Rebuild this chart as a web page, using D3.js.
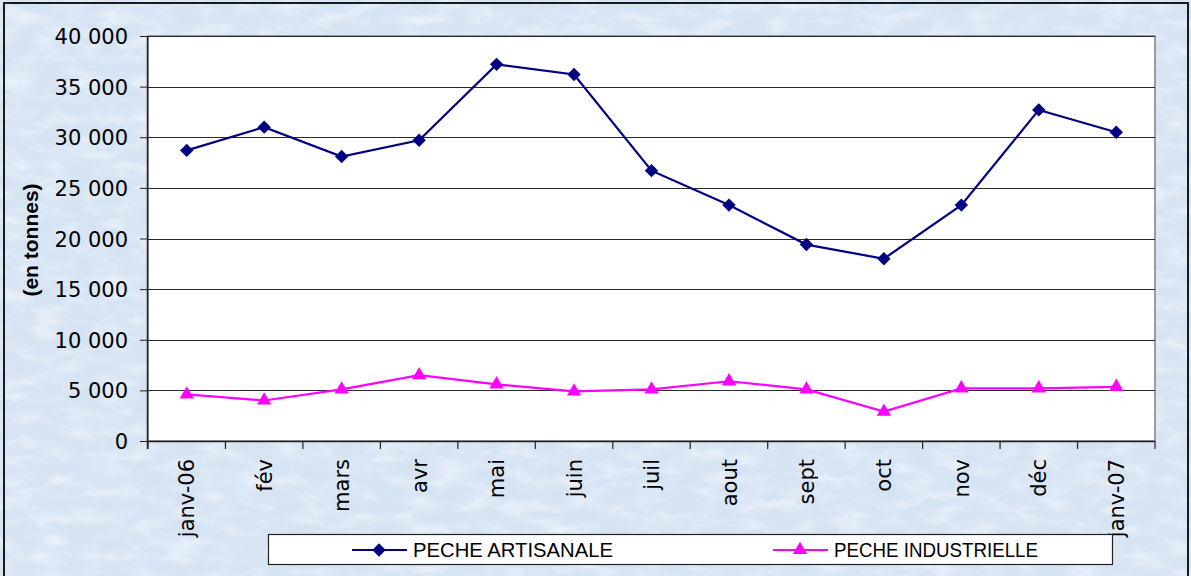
<!DOCTYPE html>
<html><head><meta charset="utf-8">
<script src="https://cdn.jsdelivr.net/npm/d3@7"></script>
<style>html,body{margin:0;padding:0;background:#fff;}svg{display:block;}</style>
</head><body>
<svg id="chart" width="1191" height="576"></svg>
<script>
const categories = ["janv-06","fév","mars","avr","mai","juin","juil","aout","sept","oct","nov","déc","janv-07"];
const artisanale = [28700,31000,28100,29700,37200,36200,26700,23300,19400,18000,23300,32700,30500];
const industrielle = [4600,4000,5100,6500,5600,4900,5100,5900,5100,2900,5200,5200,5350];
const yTicks = [0,5000,10000,15000,20000,25000,30000,35000,40000];
const seriesNames = ["PECHE ARTISANALE","PECHE INDUSTRIELLE"];
const yTitle = "(en tonnes)";

const svg = d3.select("#chart");
const W = 1191, H = 576;
const m = {left:148, right:1155, top:36, bottom:441};

// background texture
const defs = svg.append("defs");
const f1 = defs.append("filter").attr("id","tex1").attr("x",0).attr("y",0).attr("width","100%").attr("height","100%");
f1.append("feTurbulence").attr("type","fractalNoise").attr("baseFrequency","0.03 0.08").attr("numOctaves",4).attr("seed",3);
f1.append("feColorMatrix").attr("type","matrix")
  .attr("values","0 0 0 0 0.93  0 0 0 0 0.96  0 0 0 0 1  1.3 0 0 0 -0.55");
const f2 = defs.append("filter").attr("id","tex2").attr("x",0).attr("y",0).attr("width","100%").attr("height","100%");
f2.append("feTurbulence").attr("type","fractalNoise").attr("baseFrequency","0.06 0.15").attr("numOctaves",3).attr("seed",9);
f2.append("feColorMatrix").attr("type","matrix")
  .attr("values","0 0 0 0 0.72  0 0 0 0 0.80  0 0 0 0 0.92  0 1.2 0 0 -0.55");

svg.append("rect").attr("x",0).attr("y",0).attr("width",W).attr("height",H).attr("fill","#d6e3f3");
svg.append("rect").attr("x",0).attr("y",0).attr("width",W).attr("height",H).attr("filter","url(#tex2)");
svg.append("rect").attr("x",0).attr("y",0).attr("width",W).attr("height",H).attr("filter","url(#tex1)");
svg.append("rect").attr("x",4).attr("y",3).attr("width",1184).attr("height",600)
  .attr("fill","none").attr("stroke","#1a1a1a").attr("stroke-width",2);

const x = d3.scaleBand().domain(categories).range([m.left, m.right]);
const y = d3.scaleLinear().domain([0,40000]).range([m.bottom, m.top]);
const fr = d3.formatLocale({decimal:",",thousands:" ",grouping:[3],currency:["",""]});
const fmt = fr.format(",");

// plot area
svg.append("rect").attr("x",m.left).attr("y",m.top).attr("width",m.right-m.left).attr("height",m.bottom-m.top)
  .attr("fill","#fff").attr("stroke","#808080").attr("stroke-width",1.5);

// gridlines
svg.append("g").selectAll("line").data(yTicks.filter(d=>d>0)).join("line")
  .attr("x1",m.left).attr("x2",m.right).attr("y1",d=>Math.round(y(d))+0.5).attr("y2",d=>Math.round(y(d))+0.5)
  .attr("stroke","#2a2a2a").attr("stroke-width",1);

// y axis
const yAxis = svg.append("g").attr("transform",`translate(${m.left},0)`)
  .call(d3.axisLeft(y).tickValues(yTicks).tickFormat(fmt).tickSize(8).tickPadding(12));
yAxis.select(".domain").attr("stroke","#222").attr("stroke-width",1.5).attr("d",`M-0.5,${m.top}V${m.bottom+8}`);
yAxis.selectAll(".tick line").attr("stroke","#222");
yAxis.selectAll("text").attr("font-family","'DejaVu Sans', sans-serif").attr("font-size","21px").attr("fill","#000").attr("dy","0.36em");

// x axis
const xAxis = svg.append("g").attr("transform",`translate(0,${m.bottom})`)
  .call(d3.axisBottom(x).tickSize(0).tickPadding(0));
xAxis.select(".domain").attr("stroke","#222").attr("stroke-width",1.5).attr("d",`M${m.left},0.5H${m.right}`);
const bounds = categories.map(c=>x(c)).concat([m.right]);
svg.append("g").selectAll("line").data(bounds).join("line")
  .attr("x1",d=>d).attr("x2",d=>d).attr("y1",m.bottom).attr("y2",m.bottom+8)
  .attr("stroke","#222").attr("stroke-width",1.2);
xAxis.selectAll(".tick text")
  .attr("font-family","'DejaVu Sans', sans-serif").attr("font-size","21px").attr("fill","#000")
  .attr("text-anchor","end")
  .attr("transform","translate(0,18) rotate(-90)")
  .attr("x",0).attr("y",0).attr("dy","0.36em");

// y title
svg.append("text").attr("transform","translate(31,240) rotate(-90)")
  .attr("text-anchor","middle").attr("dy","0.35em")
  .attr("font-family","'Liberation Sans', Arial, sans-serif").attr("font-weight","bold").attr("font-size","21px")
  .text(yTitle);

// series
const cx = c => x(c) + x.bandwidth()/2;
const line = d3.line().x((d,i)=>cx(categories[i])).y(d=>y(d));
const diamond = d3.symbol().type(d3.symbolSquare).size(90);
const tri = d3.symbol().type(d3.symbolTriangle).size(88);

svg.append("path").datum(artisanale).attr("d",line).attr("fill","none").attr("stroke","#000080").attr("stroke-width",2.2);
svg.append("g").selectAll("path").data(artisanale).join("path")
  .attr("d",diamond).attr("fill","#000080")
  .attr("transform",(d,i)=>`translate(${cx(categories[i])},${y(d)}) rotate(45)`);

svg.append("path").datum(industrielle).attr("d",line).attr("fill","none").attr("stroke","#ff00ff").attr("stroke-width",2.2);
svg.append("g").selectAll("path").data(industrielle).join("path")
  .attr("d",tri).attr("fill","#ff00ff")
  .attr("transform",(d,i)=>`translate(${cx(categories[i])},${y(d)})`);

// legend
const lg = svg.append("g");
lg.append("rect").attr("x",268.5).attr("y",534.5).attr("width",844).attr("height",30)
  .attr("fill","#fff").attr("stroke","#222").attr("stroke-width",1.2);
const entries = [
  {name:seriesNames[0], color:"#000080", sym:"d", x0:352, len:200},
  {name:seriesNames[1], color:"#ff00ff", sym:"t", x0:773, len:204}
];
entries.forEach(e=>{
  lg.append("line").attr("x1",e.x0).attr("x2",e.x0+55).attr("y1",550).attr("y2",550).attr("stroke",e.color).attr("stroke-width",2.2);
  lg.append("path").attr("d", e.sym==="d" ? diamond() : tri())
    .attr("fill",e.color)
    .attr("transform", e.sym==="d" ? `translate(${e.x0+27},550) rotate(45)` : `translate(${e.x0+27},550)`);
  lg.append("text").attr("x",e.x0+61).attr("y",550).attr("dy","0.36em")
    .attr("font-family","'Liberation Sans', Arial, sans-serif").attr("font-size","20px").attr("fill","#000")
    .attr("textLength",e.len).attr("lengthAdjust","spacingAndGlyphs")
    .text(e.name);
});
</script>
</body></html>
